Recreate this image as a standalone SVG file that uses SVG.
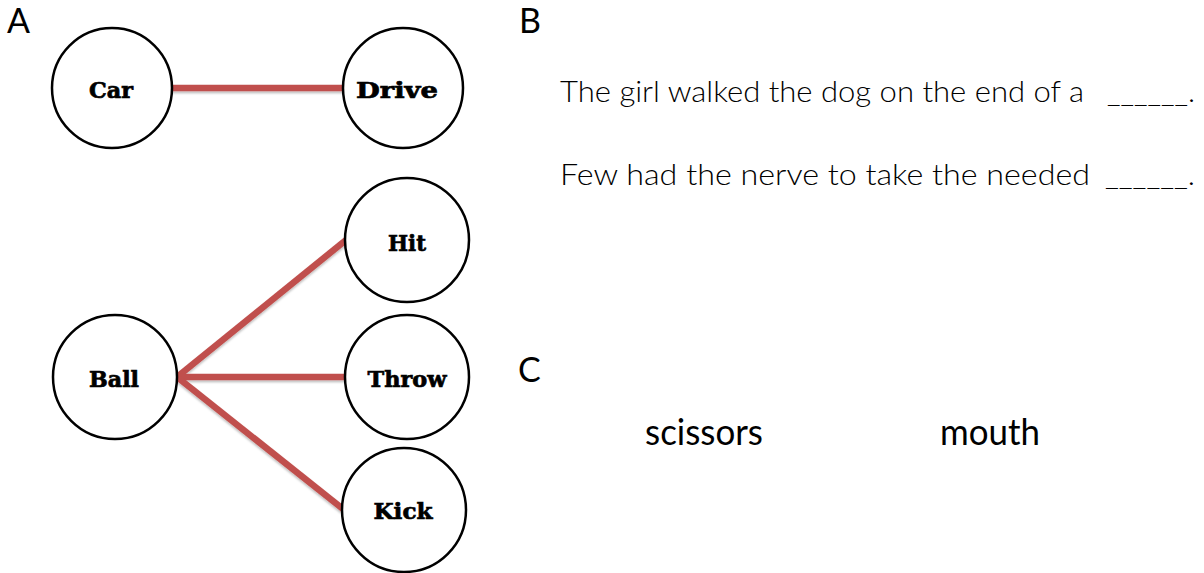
<svg xmlns="http://www.w3.org/2000/svg" width="1204" height="573" viewBox="0 0 1204 573">
<style>
.node circle{fill:#fff;stroke:#000;stroke-width:2.5}
.node text{font-family:"DejaVu Serif",serif;font-weight:bold;font-size:23px;fill:#000;stroke:#000;stroke-width:0.7;text-anchor:middle}
.edges line{stroke:#c0504d;stroke-width:6.5;stroke-linecap:butt}
.lbl{font-family:Lato,"Open Sans",sans-serif;font-size:34px;fill:#000}
.sent{font-family:Lato,"Open Sans",sans-serif;font-weight:300;font-size:29px;fill:#000}
.word{font-family:Lato,"Open Sans",sans-serif;font-size:37px;fill:#000}
</style>
<defs>
<filter id="sh" x="-10%" y="-10%" width="120%" height="130%">
<feDropShadow dx="0" dy="2" stdDeviation="1.2" flood-color="#000" flood-opacity="0.25"/>
</filter>
</defs>
<text class="lbl" x="7" y="33">A</text>
<text class="lbl" x="519" y="33">B</text>
<text class="lbl" x="518" y="382">C</text>
<g class="edges" filter="url(#sh)">
<line x1="172" y1="88" x2="345" y2="88"/>
<line x1="177" y1="377" x2="346" y2="240"/>
<line x1="177" y1="377" x2="346" y2="377"/>
<line x1="177" y1="377" x2="343" y2="509"/>
</g>
<g id="car" class="node"><circle cx="112" cy="88" r="60"/><text x="111" y="98" textLength="44" lengthAdjust="spacingAndGlyphs">Car</text></g>
<g id="drive" class="node"><circle cx="403" cy="88" r="60"/><text x="397" y="98" textLength="82" lengthAdjust="spacingAndGlyphs">Drive</text></g>
<g id="hit" class="node"><circle cx="407" cy="240" r="62"/><text x="407" y="251" textLength="38" lengthAdjust="spacingAndGlyphs">Hit</text></g>
<g id="ball" class="node"><circle cx="115" cy="377" r="62"/><text x="114" y="387" textLength="50" lengthAdjust="spacingAndGlyphs">Ball</text></g>
<g id="throw" class="node"><circle cx="407" cy="377" r="62"/><text x="407" y="387" textLength="79" lengthAdjust="spacingAndGlyphs">Throw</text></g>
<g id="kick" class="node"><circle cx="404" cy="510" r="62"/><text x="403" y="519" textLength="59" lengthAdjust="spacingAndGlyphs">Kick</text></g>
<text class="sent" x="560" y="102" textLength="524" lengthAdjust="spacingAndGlyphs">The girl walked the dog on the end of a</text>
<text class="sent" x="1107" y="102" textLength="88" lengthAdjust="spacingAndGlyphs">______.</text>
<text class="sent" x="560" y="185" textLength="530" lengthAdjust="spacingAndGlyphs">Few had the nerve to take the needed</text>
<text class="sent" x="1105" y="185" textLength="90" lengthAdjust="spacingAndGlyphs">______.</text>
<text class="word" x="645" y="445" textLength="118" lengthAdjust="spacingAndGlyphs">scissors</text>
<text class="word" x="940" y="445" textLength="100" lengthAdjust="spacingAndGlyphs">mouth</text>
</svg>
